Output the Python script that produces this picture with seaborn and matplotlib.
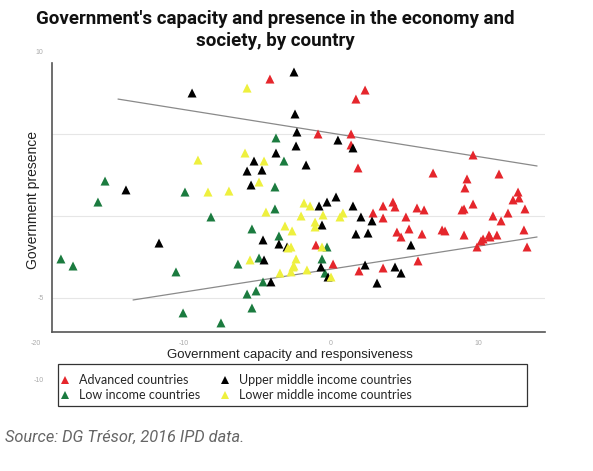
import numpy as np
import pandas as pd
import seaborn as sns
import matplotlib
matplotlib.use("Agg")
import matplotlib.pyplot as plt
from matplotlib.patches import Rectangle

# ---------------- data ----------------
adv_x = [-4.14, 2.31, 1.69, -0.88, 1.36, 1.36, 9.63, 1.83, 6.92, 9.22, 11.39, 9.08, 12.68, 12.34,
         12.75, 9.63, 8.88, 9.02, 13.15, 12.0, 10.98, 11.53, 4.20, 4.34, 3.53, 5.83, 6.31, 2.85,
         3.53, 5.08, 5.29, 4.47, 4.75, 6.17, 7.53, 7.73, 9.02, 10.31, 10.17, 10.71, 10.78, 11.25,
         13.08, 9.90, 13.29, -1.02, 0.14, 1.90, 3.53, 5.90]
adv_y = [8.35, 7.68, 7.13, 5.00, 5.00, 4.33, 3.72, 2.93, 2.62, 2.26, 2.56, 1.71, 1.46, 0.98,
         1.10, 0.73, 0.37, 0.43, 0.43, 0.18, 0.00, -0.30, 0.85, 0.55, 0.61, 0.49, 0.37, 0.18,
         -0.12, -0.06, -0.79, -0.98, -1.28, -1.10, -0.85, -0.91, -1.16, -1.40, -1.52, -1.16,
         -1.28, -1.16, -0.85, -1.89, -1.89, -1.77, -2.93, -3.35, -3.17, -2.74]

umi_x = [-2.51, -9.42, -2.44, -2.31, 0.47, 1.49, -2.37, -3.73, -5.22, -5.69, -4.68, -5.42, -13.90,
         -1.69, 0.34, -0.27, -0.81, 1.49, 2.03, 2.78, -0.61, -4.61, -11.66, -3.53, -2.98, -4.54,
         1.69, 2.51, 5.42, -4.07, -0.68, -0.20, 2.31, 4.34, 4.75, 3.12]
umi_y = [8.78, 7.50, 6.22, 5.12, 4.63, 4.15, 4.27, 3.84, 3.35, 2.74, 2.80, 1.89, 1.59,
         3.11, 1.16, 0.85, 0.61, 0.61, -0.06, -0.30, -0.55, -1.46, -1.65, -1.71, -1.89, -2.68,
         -1.10, -1.04, -1.77, -4.02, -3.11, -3.72, -2.99, -3.11, -3.48, -4.09]

low_x = [-3.73, -3.19, -15.32, -3.80, -9.90, -15.80, -3.80, -8.14, -5.36, -3.53, -18.31, -17.49,
         -4.88, -6.31, -10.51, -4.61, -5.69, -5.08, -5.36, -10.03, -7.46, -0.27, -0.61, -0.41]
low_y = [4.76, 3.35, 2.13, 1.77, 1.46, 0.85, 0.43, -0.06, -0.79, -1.22, -2.62, -3.05,
         -2.56, -2.93, -3.41, -4.02, -4.76, -4.57, -5.61, -5.91, -6.52, -1.89, -2.62, -3.48]

lmi_x = [-5.69, -5.83, -9.02, -4.54, -4.88, -8.34, -6.92, -4.41, -2.03, -3.12, -2.64, -2.92,
         -5.49, -2.37, -3.46, -2.71, -2.51, -1.83, -1.42, -0.54, 0.81, 0.61, -1.08, -1.08,
         -0.61, 0.00, -1.63, -2.58, -2.71]
lmi_y = [7.80, 3.84, 3.41, 3.35, 2.07, 1.46, 1.52, 0.24, 0.00, -0.61, -0.91, -1.95,
         -2.68, -2.62, -3.48, -3.41, -3.05, 0.79, 0.61, 0.06, 0.18, -0.06, -0.37, -0.67,
         -1.89, -3.72, -3.29, -3.11, -1.89]

upper_line_x = [-14.44, 13.97]
upper_line_y = [7.13, 3.05]
lower_line_x = [-13.42, 13.97]
lower_line_y = [-5.12, -1.28]

groups = ["Advanced countries", "Low income countries",
          "Upper middle income countries", "Lower middle income countries"]
colors = ["#e5262c", "#1b7b3f", "#000000", "#eef03e"]

x_ticks = [-20, -10, 0, 10]
x_ticklabels = ["-20", "-10", "0", "10"]
y_ticks = [-10, -5, 0, 5, 10]
y_ticklabels = ["-10", "-5", "", "", "10"]

df = pd.concat([
    pd.DataFrame({"x": adv_x, "y": adv_y, "group": groups[0]}),
    pd.DataFrame({"x": low_x, "y": low_y, "group": groups[1]}),
    pd.DataFrame({"x": umi_x, "y": umi_y, "group": groups[2]}),
    pd.DataFrame({"x": lmi_x, "y": lmi_y, "group": groups[3]}),
], ignore_index=True)

# ---------------- style ----------------
sns.set_theme(style="white")
plt.rcParams["font.family"] = ["Liberation Sans", "DejaVu Sans"]

W, H = 593, 471
fig = plt.figure(figsize=(W / 100, H / 100), dpi=100)

# data->pixel: px = 331 + 14.75*x ; py = 216 - 16.4*y
xlim = (-20.5, 14.5)
ylim = (-10.5, 10.5)
left_px = 331 + 14.75 * xlim[0]
right_px = 331 + 14.75 * xlim[1]
top_px = 216 - 16.4 * ylim[1]
bot_px = 216 - 16.4 * ylim[0]
ax = fig.add_axes([left_px / W, 1 - bot_px / H, (right_px - left_px) / W, (bot_px - top_px) / H])
ax.set_xlim(*xlim)
ax.set_ylim(*ylim)
ax.patch.set_alpha(0)

spine_x = (52 - 331) / 14.75
spine_y = (216 - 332) / 16.4
spine_top = (216 - 63) / 16.4

# gridlines
for gy in [5, 0, -5]:
    ax.plot([spine_x, xlim[1]], [gy, gy], color="#e6e6e6", lw=0.8, zorder=0)

# trend lines
sns.lineplot(x=upper_line_x, y=upper_line_y, ax=ax, color="#8a8a8a", lw=0.9, zorder=1)
sns.lineplot(x=lower_line_x, y=lower_line_y, ax=ax, color="#8a8a8a", lw=0.9, zorder=1)

sns.scatterplot(data=df, x="x", y="y", hue="group", hue_order=groups,
                palette=colors, marker="^", s=42, linewidth=0, ax=ax, zorder=3,
                legend=True)

handles, labels = ax.get_legend_handles_labels()
ax.get_legend().remove()

for s in ["top", "right"]:
    ax.spines[s].set_visible(False)
ax.spines["left"].set_position(("data", spine_x))
ax.spines["bottom"].set_position(("data", spine_y))
ax.spines["left"].set_bounds(spine_y, spine_top)
ax.spines["bottom"].set_bounds(spine_x, xlim[1])
for s in ["left", "bottom"]:
    ax.spines[s].set_color("#555555")
    ax.spines[s].set_linewidth(1.2)

ax.set_xticks(x_ticks)
ax.set_xticklabels(x_ticklabels)
ax.set_yticks(y_ticks)
ax.set_yticklabels(y_ticklabels)
ax.tick_params(axis="both", direction="out", length=4, width=0.8, color="#555555",
               labelsize=5, labelcolor="#aaaaaa", pad=2)
ax.set_xlabel("")
ax.set_ylabel("")

# texts
fig.text(275 / W, 1 - 10 / H,
         "Government's capacity and presence in the economy and\nsociety, by country",
         ha="center", va="top", fontsize=13.5, fontweight="bold", family=["Roboto", "DejaVu Sans"],
         linespacing=1.28, color="#111111")
fig.text(33 / W, 1 - 200 / H, "Government presence", rotation=90, ha="center", va="center",
         fontsize=10, color="#222222")
fig.text(290 / W, 1 - 355 / H, "Government capacity and responsiveness", ha="center",
         va="center", fontsize=9.5, color="#222222")
fig.text(5 / W, 1 - 437 / H, "Source: DG Trésor, 2016 IPD data.", ha="left", va="center",
         fontsize=11.8, style="italic", color="#666666", family=["Roboto", "DejaVu Sans"])

# legend frame + legend
fig.add_artist(Rectangle((58 / W, 1 - 406 / H), (527 - 58) / W, (406 - 364) / H,
                         transform=fig.transFigure, fill=False, edgecolor="#333333", lw=0.9))
leg = fig.legend(handles, labels, ncol=2,
                 frameon=False, loc="upper left", bbox_to_anchor=(59 / W, 1 - 374 / H),
                 borderpad=0, borderaxespad=0, handlelength=1.0, handletextpad=0.6,
                 columnspacing=1.5, labelspacing=0.25, markerscale=0.9,
                 prop={"family": ["Lato", "DejaVu Sans"], "size": 9})

fig.savefig("out.png", dpi=100)
